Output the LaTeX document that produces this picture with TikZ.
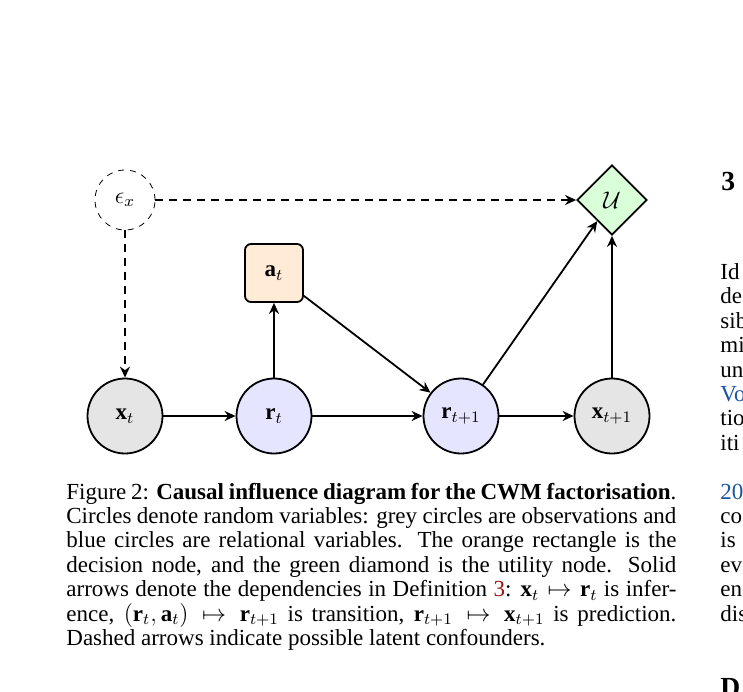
\documentclass[tikz,border=0pt]{standalone}
\usepackage{fontspec}
\setmainfont{Liberation Serif}
\usetikzlibrary{shapes.geometric,arrows.meta}
\definecolor{obsgrey}{RGB}{229,229,229}
\definecolor{relblue}{RGB}{229,229,255}
\definecolor{decorange}{RGB}{255,235,214}
\definecolor{utilgreen}{RGB}{217,255,217}
\definecolor{refred}{RGB}{150,20,20}
\definecolor{citeblue}{RGB}{25,85,165}
\begin{document}
\begin{tikzpicture}[x=0.5pt,y=-0.5pt,
  lab/.style={font=\fontsize{11.5}{13.8}\selectfont},
  var/.style={circle,draw,line width=0.9pt,minimum size=37.5pt,inner sep=0pt,lab},
  obs/.style={var,fill=obsgrey},
  rel/.style={var,fill=relblue},
  dec/.style={rectangle,rounded corners=3pt,draw,line width=0.9pt,fill=decorange,minimum size=29pt,inner sep=0pt,lab},
  util/.style={diamond,draw,line width=0.9pt,fill=utilgreen,minimum size=35pt,inner sep=0pt,lab},
  noise/.style={circle,draw,dashed,line width=0.4pt,minimum size=30pt,inner sep=0pt,lab},
  arr/.style={-{Stealth[length=5.5pt,width=5pt]},line width=0.9pt},
  conf/.style={arr,dash pattern=on 4pt off 3pt},
  txt/.style={anchor=base west,inner sep=0pt,font=\fontsize{11.5}{13.8}\selectfont},
  head/.style={anchor=base west,inner sep=0pt,font=\fontsize{13.8}{16}\selectfont\bfseries},
]
\useasboundingbox (0,0) rectangle (743,691);
\fill[white] (0,0) rectangle (743,691);

% nodes
\node[noise] (eps) at (125,200) {$\epsilon_x$};
\node[util] (U) at (612,200) {$\mathcal{U}$};
\node[dec] (a) at (274,273) {$\mathbf{a}_t$};
\node[obs] (x) at (125,416) {$\mathbf{x}_t$};
\node[rel] (r) at (274,416) {$\mathbf{r}_t$};
\node[rel] (r1) at (461,416) {$\mathbf{r}_{t+1}$};
\node[obs] (x1) at (612,416) {$\mathbf{x}_{t+1}$};

% connectors
\draw[conf] (eps) -- (U);
\draw[conf] (eps) -- (x);
\draw[arr] (x) -- (r);
\draw[arr] (r) -- (a);
\draw[arr] (a) -- (r1);
\draw[arr] (r) -- (r1);
\draw[arr] (r1) -- (x1);
\draw[arr] (r1) -- (U);
\draw[arr] (x1) -- (U);

% caption
\node[txt] (c1) at (66,499) {\makebox[305pt][s]{Figure 2: \textbf{Causal influence diagram for the CWM factorisation}.}};
\node[txt] (c2) at (66,523.4) {\makebox[305pt][s]{Circles denote random variables: grey circles are observations and}};
\node[txt] (c3) at (66,547.8) {\makebox[305pt][s]{blue circles are relational variables. The orange rectangle is the}};
\node[txt] (c4) at (66,572.2) {\makebox[305pt][s]{decision node, and the green diamond is the utility node. Solid}};
\node[txt] (c5) at (66,596.6) {\makebox[305pt][s]{arrows denote the dependencies in Definition \textcolor{refred}{3}: $\mathbf{x}_t \mapsto \mathbf{r}_t$ is infer-}};
\node[txt] (c6) at (66,621) {\makebox[305pt][s]{ence, $(\mathbf{r}_t, \mathbf{a}_t) \mapsto \mathbf{r}_{t+1}$ is transition, $\mathbf{r}_{t+1} \mapsto \mathbf{x}_{t+1}$ is prediction.}};
\node[txt] (c7) at (66,645.4) {Dashed arrows indicate possible latent confounders.};

% right column (cut off by the page edge)
\begin{scope}
\clip (0,0) rectangle (743,691);
\node[head] (h3) at (721,190) {3};
\node[txt] (k1) at (720,279.4) {Id};
\node[txt] (k2) at (720,303.8) {de};
\node[txt] (k3) at (720,328.2) {sib};
\node[txt] (k4) at (720,352.6) {mi};
\node[txt] (k5) at (720,377) {un};
\node[txt] (k6) at (720,401.4) {\textcolor{citeblue}{Vo}};
\node[txt] (k7) at (720,425.8) {tio};
\node[txt] (k8) at (720,450.2) {iti};
\node[txt] (k9) at (720,499) {\textcolor{citeblue}{20}};
\node[txt] (k10) at (720,523.4) {co};
\node[txt] (k11) at (720,547.8) {is};
\node[txt] (k12) at (720,572.2) {ev};
\node[txt] (k13) at (720,596.6) {en};
\node[txt] (k14) at (720,621) {dis};
\node[head] (h4) at (720,696) {D};
\end{scope}
\end{tikzpicture}
\end{document}
